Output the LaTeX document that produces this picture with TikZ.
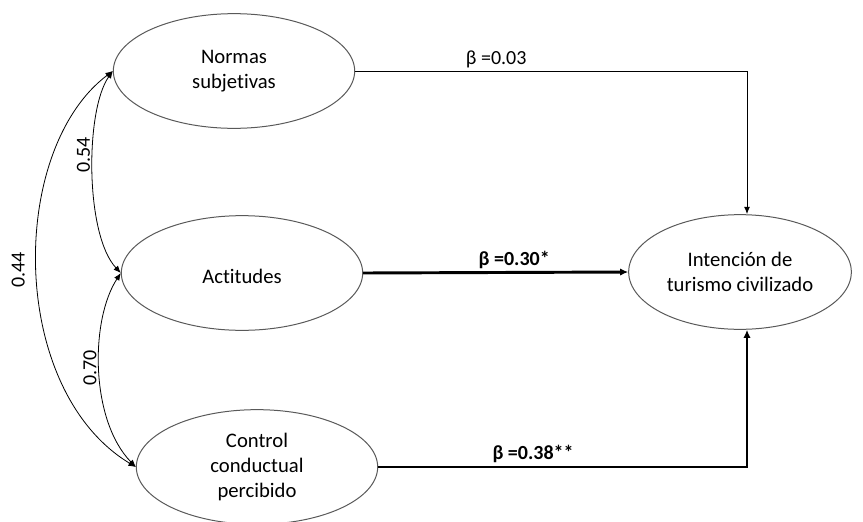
\documentclass[tikz,border=0pt]{standalone}
\usepackage{fontspec}
\setmainfont{Carlito}[Ligatures=NoCommon]
\usetikzlibrary{shapes.geometric,arrows.meta}

\begin{document}
\begin{tikzpicture}[x=0.75pt,y=-0.75pt]
\tikzset{
var/.style={ ellipse , draw=black!65 , line width=0.75pt , inner sep=0pt ,
minimum width=181pt , minimum height=86pt , align=center ,
font=\fontsize{15.5}{19}\selectfont ,
execute at begin node={\rule{0pt}{16pt}} },
effect/.style={ draw , line width=0.75pt , -{Latex[length=5.5pt,width=4.5pt]} },
sigeffect/.style={ draw , line width=2.2pt , -{Latex[length=6pt,width=5.5pt]} },
corr/.style={ draw , line width=0.6pt ,
{Latex[length=5.5pt,width=4.5pt]}-{Latex[length=5.5pt,width=4.5pt]} },
coef/.style={ font=\fontsize{15}{18}\selectfont , inner sep=2pt }
}
\useasboundingbox (0,0) rectangle (863,521);

\node[var] (norm) at (234,71) {Normas\\subjetivas};
\node[var] (act) at (242,273) {Actitudes};
\node[var] (ctrl) at (257,467) {Control\\conductual\\percibido};
\node[var, minimum width=167pt] (int) at (740,272) {Intención de\\turismo civilizado};

\draw[effect] (norm.east) -| ([xshift=5.25pt]int.north)
	node[pos=0.18, above, coef] {β =0.03};
\draw[sigeffect] (act.east) -- (int.west)
	node[pos=0.57, above, coef] {\bfseries β =0.30*};
\draw[sigeffect] (ctrl.east) -| ([xshift=5.25pt]int.south)
	node[pos=0.21, above, coef] {\bfseries β =0.38**};

\draw[corr] (norm.west) .. controls (85,110) and (85,235) .. (act.west)
	node[pos=0.43, rotate=90, anchor=south, coef] {0.54};
\draw[corr] (act.west) .. controls (90,320) and (90,420) .. (ctrl.west)
	node[pos=0.49, rotate=90, anchor=south, coef] {0.70};
\draw[corr] (norm.west) .. controls (8,150) and (8,390) .. (ctrl.west)
	node[pos=0.5, rotate=90, anchor=south, coef, inner sep=9pt] {0.44};

\end{tikzpicture}
\end{document}
